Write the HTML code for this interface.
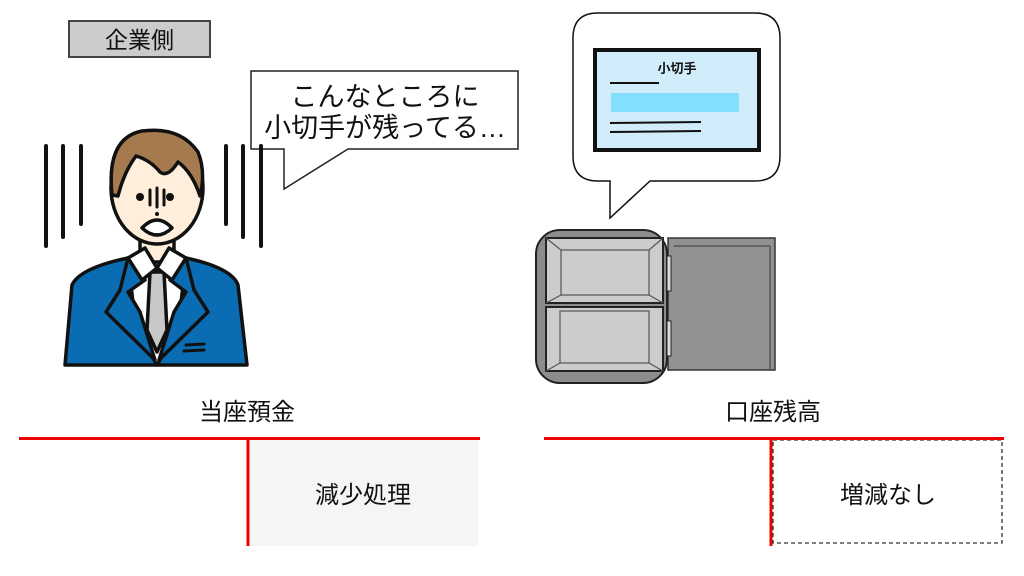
<!DOCTYPE html>
<html><head><meta charset="utf-8"><style>
html,body{margin:0;padding:0;background:#fff;width:1024px;height:576px;overflow:hidden}
svg{display:block}
text{font-family:"Liberation Sans","Noto Sans CJK JP",sans-serif;fill:#111}
</style></head><body>
<svg width="1024" height="576" viewBox="0 0 1024 576" xmlns="http://www.w3.org/2000/svg">
<rect x="69" y="21" width="141" height="36" fill="#cccccc" stroke="#444" stroke-width="2"/>
<text x="139.5" y="48" font-size="23" text-anchor="middle">企業側</text>
<path d="M251,71 H518 V149 H348 L284,189 V149 H251 Z" fill="#fff" stroke="#222" stroke-width="1.5"/>
<text x="385" y="106" font-size="27" text-anchor="middle">こんなところに</text>
<text x="385" y="137" font-size="27" text-anchor="middle">小切手が残ってる…</text>
<g stroke="#111" stroke-width="4" stroke-linecap="round">
<line x1="46" y1="146" x2="46" y2="246"/><line x1="63" y1="146" x2="63" y2="237"/><line x1="81" y1="146" x2="81" y2="224"/>
<line x1="226" y1="146" x2="226" y2="224"/><line x1="243" y1="146" x2="243" y2="237"/><line x1="261" y1="146" x2="261" y2="246"/>
</g>
<g stroke="#111" stroke-width="3.5" stroke-linejoin="round">
<path d="M65,365 L72,285 Q80,268 128,258 L186,258 Q232,268 238,285 L247,365 Z" fill="#0a6db4"/>
<path d="M128,258 L186,258 L178,330 L157,365 L136,330 Z" fill="#fff"/>
<path d="M150,272 L164,272 L167,330 L157,352 L147,330 Z" fill="#c8c8c8"/>
<path d="M128,258 L145,280 L128,292 L140,312 L155,360 L106,312 L120,290 Z" fill="#0a6db4"/>
<path d="M186,258 L170,280 L186,292 L174,312 L159,360 L208,312 L194,290 Z" fill="#0a6db4"/>
<rect x="140" y="228" width="34" height="34" fill="#ffeedb"/>
<path d="M128,258 L145,248 L157,268 L169,248 L186,258 L172,280 L157,268 L142,280 Z" fill="#fff"/>
<ellipse cx="157" cy="188" rx="46" ry="56" fill="#ffeedb"/>
<path d="M112,195 Q106,138 142,131 Q180,126 198,152 Q206,172 200,196 Q192,172 178,162 Q168,178 160,172 Q150,160 136,156 Q124,172 118,196 Z" fill="#a47a4e"/>
<path d="M142,228 Q157,212 172,228 Q157,242 142,228 Z" fill="#fff"/>
</g>
<g fill="#111"><circle cx="140" cy="197" r="4"/><circle cx="170" cy="197" r="4"/><circle cx="157" cy="214" r="2"/></g>
<g stroke="#111" stroke-width="3" stroke-linecap="round"><line x1="150" y1="190" x2="150" y2="205"/><line x1="157" y1="188" x2="157" y2="207"/><line x1="164" y1="190" x2="164" y2="205"/>
<line x1="186" y1="345" x2="204" y2="344"/><line x1="184" y1="351" x2="204" y2="350"/></g>
<path d="M598,13 H755 Q780,13 780,38 V156 Q780,181 755,181 H650 L610,218 V181 H598 Q573,181 573,156 V38 Q573,13 598,13 Z" fill="#fff" stroke="#111" stroke-width="1.5"/>
<rect x="595" y="50" width="164" height="100" fill="#d1ecfa" stroke="#111" stroke-width="4"/>
<text x="677" y="73" font-size="13" text-anchor="middle" font-weight="bold">小切手</text>
<line x1="610" y1="83" x2="659" y2="83" stroke="#111" stroke-width="2"/>
<rect x="611" y="93" width="128" height="19" fill="#82dffd"/>
<line x1="610" y1="123" x2="701" y2="122" stroke="#111" stroke-width="2"/>
<line x1="610" y1="132" x2="701" y2="131" stroke="#111" stroke-width="2"/>
<rect x="668" y="238" width="107" height="132" fill="#919191" stroke="#333" stroke-width="1.5"/>
<path d="M674,246 H770 M770,246 V370" stroke="#555" stroke-width="1.5" fill="none"/>
<rect x="536" y="230" width="131" height="153" rx="24" fill="#8c8c8c" stroke="#222" stroke-width="2"/>
<g fill="#cccccc" stroke="#222" stroke-width="2">
<rect x="546" y="238" width="117" height="65"/><rect x="546" y="307" width="117" height="64"/>
</g>
<g fill="none" stroke="#555" stroke-width="1.2">
<rect x="561" y="250" width="88" height="45"/><path d="M546,238 L561,250 M663,238 L649,250 M546,303 L561,295 M663,303 L649,295"/>
<rect x="560" y="311" width="89" height="52"/><path d="M546,371 L560,363 M663,371 L649,363"/>
</g>
<rect x="667" y="256" width="4" height="35" fill="#ddd" stroke="#222"/>
<rect x="667" y="321" width="4" height="35" fill="#ddd" stroke="#222"/>
<text x="247" y="420" font-size="24" text-anchor="middle">当座預金</text>
<rect x="250" y="440" width="228" height="106" fill="#f5f5f5"/>
<line x1="19" y1="438.5" x2="480" y2="438.5" stroke="#e00" stroke-width="3"/>
<line x1="248" y1="438" x2="248" y2="546" stroke="#e00" stroke-width="3"/>
<text x="363" y="503" font-size="24" text-anchor="middle">減少処理</text>
<text x="773" y="420" font-size="24" text-anchor="middle">口座残高</text>
<rect x="773" y="440" width="229" height="103" fill="none" stroke="#333" stroke-width="1.3" stroke-dasharray="4,3"/>
<line x1="544" y1="438.5" x2="1004" y2="438.5" stroke="#e00" stroke-width="3"/>
<line x1="771" y1="438" x2="771" y2="546" stroke="#e00" stroke-width="3"/>
<text x="888" y="503" font-size="24" text-anchor="middle">増減なし</text>
</svg>
</body></html>
